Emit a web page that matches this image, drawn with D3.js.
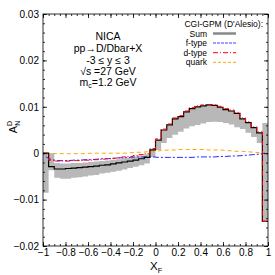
<!DOCTYPE html>
<html>
<head>
<meta charset="utf-8">
<script src="https://cdn.jsdelivr.net/npm/d3@7"></script>
<style>
  body { margin: 0; background: #fff; }
  text { font-family: "Liberation Sans", Arial, sans-serif; fill: #000; }
</style>
</head>
<body>
<svg id="chart" width="275" height="275"></svg>
<script>
// bins in x_F (left edges, width 0.05)
const binStart = [-1, -0.95, -0.9, -0.85, -0.8, -0.75, -0.7, -0.65, -0.6, -0.55,
  -0.5, -0.45, -0.4, -0.35, -0.3, -0.25, -0.2, -0.15, -0.1, -0.05,
  0, 0.05, 0.1, 0.15, 0.2, 0.25, 0.3, 0.35, 0.4, 0.45,
  0.5, 0.55, 0.6, 0.65, 0.7, 0.75, 0.8, 0.85, 0.9, 0.95]
const binWidth = 0.05

const sumVals = [0, -0.0029, -0.0034, -0.0034, -0.0033, -0.0032, -0.0031, -0.0030, -0.0029, -0.0028,
  -0.0026, -0.0025, -0.0023, -0.0021, -0.0019, -0.0017, -0.0015, -0.0012, -0.0009, 0.0007,
  0.0028, 0.0050, 0.0061, 0.0074, 0.0079, 0.0089, 0.0096, 0.0100, 0.0102, 0.0104,
  0.0103, 0.0099, 0.0094, 0.0091, 0.0086, 0.0074, 0.0066, 0.0055, 0.0044, -0.0147]
const bandLow = [-0.0085, -0.0037, -0.0053, -0.0055, -0.0055, -0.0053, -0.0052, -0.0050, -0.0048, -0.0047,
  -0.0044, -0.0042, -0.0040, -0.0038, -0.0035, -0.0032, -0.0029, -0.0026, -0.0022, -0.0008,
  0.0007, 0.0022, 0.0033, 0.0040, 0.0046, 0.0053, 0.0058, 0.0061, 0.0064, 0.0067,
  0.0068, 0.0067, 0.0065, 0.0062, 0.0056, 0.0052, 0.0044, 0.0035, 0.0022, -0.0147]
const bandHigh = [0, 0, -0.0021, -0.0022, -0.0022, -0.0021, -0.0021, -0.0020, -0.0019, -0.0018,
  -0.0017, -0.0016, -0.0014, -0.0013, -0.0011, -0.0009, -0.0007, -0.0005, -0.0002, 0.0008,
  0.0028, 0.0050, 0.0061, 0.0074, 0.0079, 0.0089, 0.0096, 0.0100, 0.0102, 0.0104,
  0.0103, 0.0099, 0.0094, 0.0091, 0.0086, 0.0074, 0.0066, 0.0055, 0.0044, 0.0065]
const dVals = [0, -0.0015, -0.0017, -0.0017, -0.0017, -0.0016, -0.0016, -0.0015, -0.0015, -0.0014,
  -0.0013, -0.0012, -0.0011, -0.0010, -0.0008, -0.0007, -0.0005, -0.0003, -0.0001, 0.0010,
  0.0031, 0.0052, 0.0063, 0.0076, 0.0081, 0.0091, 0.0098, 0.0102, 0.0104, 0.0105,
  0.0104, 0.0101, 0.0096, 0.0093, 0.0088, 0.0076, 0.0068, 0.0057, 0.0046, -0.0147]
const fVals = [-0.0008, -0.0014, -0.0016, -0.0016, -0.0016, -0.0015, -0.0015, -0.0014, -0.0014, -0.0013,
  -0.0012, -0.0012, -0.0011, -0.0010, -0.0010, -0.0009, -0.0008, -0.0008, -0.0008, -0.0008,
  -0.0009, -0.0009, -0.0009, -0.0009, -0.0009, -0.0009, -0.0009, -0.0008, -0.0008, -0.0008,
  -0.0008, -0.0007, -0.0007, -0.0006, -0.0006, -0.0005, -0.0004, -0.0003, -0.0002, 0]
const quarkVals = [-0.0001, -0.0001, -0.0001, -0.0001, -0.0001, -0.0001, -0.0001, -0.0001, 0, 0,
  0, 0, 0, 0, 0, 0.0001, 0.0002, 0.0002, 0.0003, 0.0004,
  0.0005, 0.0006, 0.0007, 0.0007, 0.0008, 0.0008, 0.0008, 0.0008, 0.0008, 0.0007,
  0.0007, 0.0007, 0.0006, 0.0005, 0.0004, 0.0004, 0.0003, 0.0002, 0.0001, 0]

const xTicks = [-1, -0.8, -0.6, -0.4, -0.2, 0, 0.2, 0.4, 0.6, 0.8, 1]
const yTicks = [-0.02, -0.01, 0, 0.01, 0.02, 0.03]

const width = 275, height = 275
const margin = { top: 14, right: 7, bottom: 29, left: 43 }

const svg = d3.select('#chart')

const x = d3.scaleLinear().domain([-1, 1]).range([margin.left, width - margin.right])
const y = d3.scaleLinear().domain([-0.02, 0.03]).range([height - margin.bottom, margin.top])

// step-style points: each bin's left edge, plus the right edge of the last bin
const stepPts = vals => {
  const pts = binStart.map((b, i) => [b, vals[i]])
  pts.push([binStart[binStart.length - 1] + binWidth, vals[vals.length - 1]])
  return pts
}

const bandPts = binStart.map((b, i) => [b, bandLow[i], bandHigh[i]])
bandPts.push([1, bandLow[bandLow.length - 1], bandHigh[bandHigh.length - 1]])

const plot = svg.append('g')

plot.append('path')
  .datum(bandPts)
  .attr('fill', '#b8b8b8')
  .attr('d', d3.area()
    .curve(d3.curveStepAfter)
    .x(d => x(d[0]))
    .y0(d => y(d[1]))
    .y1(d => y(d[2])))

const line = d3.line().x(d => x(d[0])).y(d => y(d[1]))
const stepLine = d3.line().curve(d3.curveStepAfter).x(d => x(d[0])).y(d => y(d[1]))
const centers = binStart.map(b => b + binWidth / 2)

plot.append('path')
  .attr('fill', 'none')
  .attr('stroke', '#ffa500')
  .attr('stroke-width', 1)
  .attr('stroke-dasharray', '4,3')
  .attr('d', line(centers.map((c, i) => [c, quarkVals[i]])))

plot.append('path')
  .attr('fill', 'none')
  .attr('stroke', '#2828ff')
  .attr('stroke-width', 1)
  .attr('stroke-dasharray', '6,2,2,2')
  .attr('d', line(centers.map((c, i) => [c, fVals[i]])))

plot.append('path')
  .attr('fill', 'none')
  .attr('stroke', '#000')
  .attr('stroke-width', 1.2)
  .attr('d', stepLine(stepPts(sumVals)))

plot.append('path')
  .attr('fill', 'none')
  .attr('stroke', '#ff0000')
  .attr('stroke-width', 1)
  .attr('stroke-dasharray', '5,2,1,2')
  .attr('d', stepLine(stepPts(dVals)))

// frame and ticks (mirrored, inward)
const axes = svg.append('g').attr('font-size', 7.5)

const fmt = d => d === 0 ? '0' : d3.format('')(d)

axes.append('g')
  .attr('transform', `translate(0,${height - margin.bottom})`)
  .call(d3.axisBottom(x).tickValues(xTicks).tickSize(-4).tickPadding(3).tickFormat(fmt))
axes.append('g')
  .attr('transform', `translate(0,${margin.top})`)
  .call(d3.axisTop(x).tickValues(xTicks).tickSize(-4).tickFormat(''))
axes.append('g')
  .attr('transform', `translate(${margin.left},0)`)
  .call(d3.axisLeft(y).tickValues(yTicks).tickSize(-4).tickPadding(4).tickFormat(fmt))
axes.append('g')
  .attr('transform', `translate(${width - margin.right},0)`)
  .call(d3.axisRight(y).tickValues(yTicks).tickSize(-4).tickFormat(''))

// minor ticks
axes.append('g')
  .attr('transform', `translate(0,${height - margin.bottom})`)
  .call(d3.axisBottom(x).ticks(40).tickSize(-2).tickFormat(''))
axes.append('g')
  .attr('transform', `translate(0,${margin.top})`)
  .call(d3.axisTop(x).ticks(40).tickSize(-2).tickFormat(''))
axes.append('g')
  .attr('transform', `translate(${margin.left},0)`)
  .call(d3.axisLeft(y).ticks(25).tickSize(-2).tickFormat(''))
axes.append('g')
  .attr('transform', `translate(${width - margin.right},0)`)
  .call(d3.axisRight(y).ticks(25).tickSize(-2).tickFormat(''))

axes.selectAll('.domain').remove()
axes.selectAll('.tick line').attr('stroke', '#000').attr('stroke-width', 0.8)
axes.selectAll('.tick text').attr('fill', '#000').attr('font-family', '"Liberation Sans", Arial, sans-serif')

svg.append('rect')
  .attr('x', margin.left).attr('y', margin.top)
  .attr('width', width - margin.left - margin.right)
  .attr('height', height - margin.top - margin.bottom)
  .attr('fill', 'none').attr('stroke', '#000').attr('stroke-width', 0.8)

// axis titles
const yl = svg.append('text')
  .attr('transform', 'translate(17,127) rotate(-90)')
  .attr('text-anchor', 'middle')
  .attr('font-size', 11)
yl.append('tspan').text('A')
yl.append('tspan').attr('font-size', 7).attr('dy', -5).text('D')
yl.append('tspan').attr('font-size', 7).attr('dx', -5).attr('dy', 8).text('N')

const xl = svg.append('text')
  .attr('x', 150).attr('y', 270)
  .attr('font-size', 11.5)
xl.append('tspan').text('X')
xl.append('tspan').attr('font-size', 7.5).attr('dy', 2.5).text('F')

// annotation block
const info = svg.append('g').attr('font-size', 10.5).attr('text-anchor', 'middle')
info.append('text').attr('x', 108).attr('y', 40).text('NICA')
info.append('text').attr('x', 108).attr('y', 52).text('pp\u2192D/Dbar+X')
info.append('text').attr('x', 108).attr('y', 64).text('-3 \u2264 y \u2264 3')
info.append('text').attr('x', 108).attr('y', 75).text('\u221As =27 GeV')
const mc = info.append('text').attr('x', 108).attr('y', 86)
mc.append('tspan').text('m')
mc.append('tspan').attr('font-size', 7).attr('dy', 2).text('c')
mc.append('tspan').attr('dy', -2).text('=1.2 GeV')

// legend
const legendNames = ['Sum', 'f-type', 'd-type', 'quark']
const legendStyles = [
  { stroke: '#888888', width: 2.5, dash: null },
  { stroke: '#8080ff', width: 1.5, dash: '3,1' },
  { stroke: '#ff0000', width: 1, dash: '5,2,1,2' },
  { stroke: '#ffa500', width: 1, dash: '3,2' }
]
const legend = svg.append('g').attr('font-size', 8.5)
legend.append('text').attr('x', 263).attr('y', 26.5).attr('text-anchor', 'end').text("CGI-GPM (D'Alesio):")
const rows = legend.selectAll('g.row').data(legendNames).enter().append('g')
  .attr('transform', (d, i) => `translate(0,${33.5 + i * 9.6})`)
rows.append('text').attr('x', 207).attr('y', 3).attr('text-anchor', 'end').text(d => d)
rows.append('line')
  .attr('x1', 213).attr('x2', 236).attr('y1', 0).attr('y2', 0)
  .attr('stroke', (d, i) => legendStyles[i].stroke)
  .attr('stroke-width', (d, i) => legendStyles[i].width)
  .attr('stroke-dasharray', (d, i) => legendStyles[i].dash)
</script>
</body>
</html>
